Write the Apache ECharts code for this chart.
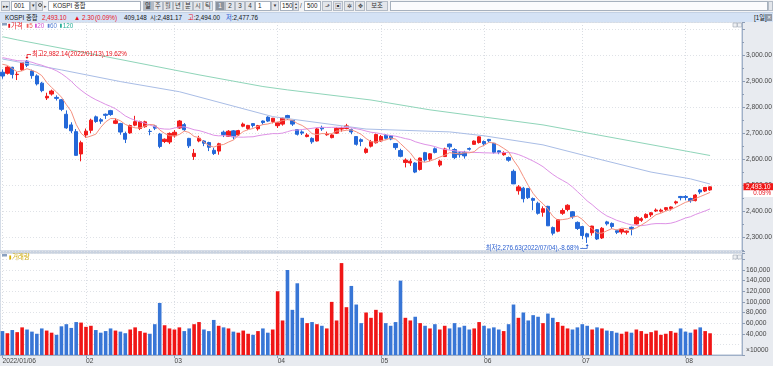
<!DOCTYPE html>
<html lang="ko"><head><meta charset="utf-8"><title>KOSPI 종합</title>
<script src="https://cdn.jsdelivr.net/npm/echarts@6/dist/echarts.min.js"></script>
<style>
*{box-sizing:border-box}
html,body{margin:0;padding:0;width:773px;height:366px;overflow:hidden;background:#e8ebf0;font-family:'Liberation Sans','Noto Sans CJK KR',sans-serif}
.a{position:absolute;white-space:nowrap}
#tb{left:0;top:0;width:773px;height:12px;background:#f2f3f5}
.bx{top:1px;height:10px;background:#fff;border:1px solid #a7b1be;font-size:6.3px;line-height:8px;padding-left:2px;color:#222}
.bt{top:1px;height:10px;background:#e3e6eb;border:1px solid #b3bbc6;font-size:6.3px;line-height:8px;text-align:center;color:#333}
.sel{background:#b3bac5;color:#222}
.sel2{background:#8d949e;color:#fff}
#info{left:0;top:12px;width:773px;height:10px;background:#d4e2f5;border-top:1px solid #c3d1e4}
.it{top:0;font-size:6.3px;line-height:9px;color:#111}
.r{color:#e8101a}.b{color:#1a4fd0}
#chart{left:0;top:22px;width:773px;height:344px}
</style></head><body>
<div id="tb" class="a">
  <div class="a bt" style="left:1px;width:9px;font-size:5px">▸▸</div>
  <div class="a bx" style="left:11px;width:19px">001</div>
  <div class="a bt" style="left:30px;width:6px;font-size:4.5px">▼</div>
  <div class="a bt" style="left:36px;width:7px"><span class="a" style="left:1px;top:1px;width:4px;height:4px;border:1px solid #555;border-radius:50%"></span></div>
  <div class="a" style="left:44px;top:1px;font-size:5px;line-height:10px;color:#555">▸</div>
  <div class="a bx" style="left:48px;width:93px;padding-left:4px">KOSPI 종합</div>
  <div class="a bt sel" style="left:143px;width:10px">일</div>
  <div class="a bt" style="left:153px;width:10px">주</div>
  <div class="a bt" style="left:163px;width:10px">월</div>
  <div class="a bt" style="left:173px;width:10px">년</div>
  <div class="a bt" style="left:183px;width:10px">분</div>
  <div class="a bt" style="left:193px;width:10px">시</div>
  <div class="a bt" style="left:203px;width:10px">틱</div>
  <div class="a bt sel2" style="left:215px;width:10px">1</div>
  <div class="a bt" style="left:225px;width:10px">2</div>
  <div class="a bt" style="left:235px;width:10px">3</div>
  <div class="a bt" style="left:245px;width:10px">4</div>
  <div class="a bx" style="left:255px;width:16px">1</div>
  <div class="a bt" style="left:271px;width:8px;font-size:4.5px">▼</div>
  <div class="a bx" style="left:280px;width:13px;padding-left:1px">150</div>
  <div class="a bt" style="left:293px;width:6px;font-size:4px;line-height:4px">▴<br>▾</div>
  <div class="a" style="left:300px;top:1px;font-size:6.3px;line-height:10px;color:#333">/</div>
  <div class="a bx" style="left:304px;width:17px">500</div>
  <div class="a bt" style="left:322px;width:10px;font-size:6px">⬏</div>
  <div class="a bt" style="left:333px;width:10px;font-size:6px">▣</div>
  <div class="a bt" style="left:344px;width:10px;font-size:6px">✲</div>
  <div class="a bt" style="left:355px;width:10px;font-size:6px">✥</div>
  <div class="a bt" style="left:366px;width:22px">보조</div>
  <div class="a bx" style="left:390px;width:378px;background:#fbfbfd"></div>
  <div class="a bt" style="left:768px;width:5px"></div>
</div>
<div id="info" class="a">
  <span class="a it" style="left:5px">KOSPI 종합</span>
  <span class="a it r" style="left:42px">2,493.10</span>
  <span class="a it r" style="left:74px">▲ 2.30</span>
  <span class="a it r" style="left:95px">(0.09%)</span>
  <span class="a it" style="left:124px">409,148</span>
  <span class="a it" style="left:150px">시:2,481.17</span>
  <span class="a it" style="left:188px"><span class="r">고</span>:2,494.00</span>
  <span class="a it" style="left:226px"><span class="b">저</span>:2,477.76</span>
  <span class="a it" style="left:754px">[1일]</span>
  <span class="a" style="left:765px;top:1px;width:7px;height:7px;background:#8e98a6;color:#fff;font-size:5px;line-height:7px;text-align:center">✕</span>
</div>
<div id="chart" class="a"></div>
<script>
// ---------- data ----------
const dates = ["2022/01/06","2022/01/07","2022/01/10","2022/01/11","2022/01/12","2022/01/13","2022/01/14","2022/01/17","2022/01/18","2022/01/19","2022/01/20","2022/01/21","2022/01/24","2022/01/25","2022/01/26","2022/01/27","2022/01/28",
"2022/02/03","2022/02/04","2022/02/07","2022/02/08","2022/02/09","2022/02/10","2022/02/11","2022/02/14","2022/02/15","2022/02/16","2022/02/17","2022/02/18","2022/02/21","2022/02/22","2022/02/23","2022/02/24","2022/02/25","2022/02/28",
"2022/03/02","2022/03/03","2022/03/04","2022/03/07","2022/03/08","2022/03/10","2022/03/11","2022/03/14","2022/03/15","2022/03/16","2022/03/17","2022/03/18","2022/03/21","2022/03/22","2022/03/23","2022/03/24","2022/03/25","2022/03/28","2022/03/29","2022/03/30","2022/03/31",
"2022/04/01","2022/04/04","2022/04/05","2022/04/06","2022/04/07","2022/04/08","2022/04/11","2022/04/12","2022/04/13","2022/04/14","2022/04/15","2022/04/18","2022/04/19","2022/04/20","2022/04/21","2022/04/22","2022/04/25","2022/04/26","2022/04/27","2022/04/28","2022/04/29",
"2022/05/02","2022/05/03","2022/05/04","2022/05/06","2022/05/09","2022/05/10","2022/05/11","2022/05/12","2022/05/13","2022/05/16","2022/05/17","2022/05/18","2022/05/19","2022/05/20","2022/05/23","2022/05/24","2022/05/25","2022/05/26","2022/05/27","2022/05/30","2022/05/31",
"2022/06/02","2022/06/03","2022/06/07","2022/06/08","2022/06/09","2022/06/10","2022/06/13","2022/06/14","2022/06/15","2022/06/16","2022/06/17","2022/06/20","2022/06/21","2022/06/22","2022/06/23","2022/06/24","2022/06/27","2022/06/28","2022/06/29","2022/06/30",
"2022/07/01","2022/07/04","2022/07/05","2022/07/06","2022/07/07","2022/07/08","2022/07/11","2022/07/12","2022/07/13","2022/07/14","2022/07/15","2022/07/18","2022/07/19","2022/07/20","2022/07/21","2022/07/22","2022/07/25","2022/07/26","2022/07/27","2022/07/28","2022/07/29",
"2022/08/01","2022/08/02","2022/08/03","2022/08/04","2022/08/05","2022/08/08"];

const open = [2935,2931,2954,2926,2945,2978,2940,2921,2893,2836,2851,2838,2829,2773,2732,2706,2620,
2693,2711,2763,2752,2773,2787,2738,2737,2699,2701,2731,2718,2725,2707,2728,2697,2668,2666,
2690,2720,2733,2680,2610,2670,2670,2664,2634,2631,2704,2688,2709,2693,2727,2718,2737,2717,2747,2762,2745,
2729,2735,2768,2749,2714,2705,2687,2680,2670,2722,2694,2683,2700,2716,2718,2714,2687,2675,2626,2650,2663,
2670,2692,2690,2660,2633,2587,2585,2585,2560,2625,2600,2640,2577,2610,2658,2637,2624,2626,2641,2657,2664,
2668,2676,2661,2632,2617,2606,2553,2478,2488,2487,2448,2430,2395,2418,2336,2322,2391,2406,2397,2356,
2340,2312,2316,2328,2296,2358,2352,2324,2319,2318,2337,2350,2364,2375,2385,2400,2399,2406,2409,2431,2456,
2456,2448,2440,2481,2477,2481.17];

const high = [2946,2958,2956,2936,2975,2982.14,2945,2927,2898,2856,2868,2846,2832,2788,2742,2716,2671,
2718,2756,2768,2758,2776,2790,2757,2740,2706,2733,2767,2748,2748,2716,2730,2701,2680,2703,
2712,2751,2739,2682,2639,2690,2673,2667,2644,2663,2710,2712,2712,2713,2741,2732,2739,2732,2749,2765,2759,
2742,2760,2771,2750,2715,2711,2700,2684,2720,2729,2706,2698,2722,2725,2736,2718,2689,2680,2645,2674,2698,
2693,2697,2692,2662,2640,2603,2602,2588,2606,2628,2623,2645,2598,2644,2660,2642,2630,2632,2645,2672,2688,
2672,2678,2662,2634,2630,2610,2560,2500,2493,2487,2452,2436,2418,2420,2340,2368,2410,2426,2400,2360,
2343,2316,2343,2330,2338,2362,2356,2328,2330,2325,2340,2380,2376,2391,2396,2410,2409,2415,2418,2440,2458,
2461,2451,2465,2485,2492,2494.00];

const low = [2910,2926,2911,2905,2940,2955,2910,2884,2858,2828,2845,2826,2785,2717,2700,2614,2591.53,
2682,2700,2740,2736,2755,2767,2735,2694,2662,2698,2727,2712,2721,2692,2712,2642,2662,2658,
2683,2717,2708,2643,2597,2665,2650,2631,2616,2617,2685,2686,2676,2689,2723,2712,2722,2710,2733,2743,2738,
2720,2729,2751,2728,2691,2693,2684,2659,2668,2709,2690,2680,2697,2706,2715,2696,2652,2650,2621,2645,2660,
2667,2676,2673,2636,2607,2568,2574,2546,2556,2590,2592,2622,2570,2608,2637,2600,2606,2602,2633,2655,2660,
2650,2664,2621,2619,2613,2590,2504,2463,2433,2446,2403,2386,2378,2342,2306,2318,2385,2399,2370,2327,
2291,2276.63,2305,2288,2292,2344,2331,2311,2310,2309,2306,2347,2358,2371,2377,2396,2394,2400,2402,2425,2441,
2441,2432,2437,2465,2473,2477.76];

const close = [2920.53,2954.89,2926.72,2927.38,2972.48,2962.09,2921.92,2890.10,2864.24,2842.28,2862.68,2834.29,2792.00,2720.39,2709.24,2614.49,2663.34,
2707.82,2750.26,2745.06,2746.47,2768.85,2771.93,2747.71,2704.48,2676.54,2729.68,2744.52,2744.09,2743.80,2706.79,2719.53,2648.80,2676.76,2699.18,
2703.52,2747.08,2713.43,2651.31,2622.40,2680.32,2661.28,2645.65,2621.53,2659.23,2694.51,2707.64,2686.05,2710.00,2735.05,2729.98,2729.66,2729.56,2741.07,2746.74,2757.65,
2739.85,2757.90,2759.20,2735.03,2695.86,2700.39,2693.10,2666.76,2716.49,2716.71,2696.06,2693.21,2718.69,2718.89,2728.21,2704.71,2657.13,2668.31,2639.06,2667.49,2695.05,
2687.45,2680.46,2677.57,2644.51,2610.81,2596.56,2592.27,2550.08,2604.24,2596.58,2620.44,2625.98,2592.34,2639.29,2647.38,2605.87,2617.22,2612.45,2638.05,2669.66,2685.90,
2658.99,2670.65,2626.15,2626.34,2625.44,2595.87,2504.51,2492.97,2447.38,2451.41,2440.93,2391.03,2408.93,2342.81,2314.32,2366.60,2401.92,2422.09,2377.99,2332.64,
2305.42,2300.34,2341.78,2292.01,2333.39,2350.61,2340.27,2317.76,2328.61,2322.32,2330.98,2375.25,2370.18,2386.85,2393.14,2403.69,2403.22,2412.90,2415.53,2435.27,2451.50,
2452.25,2439.62,2461.45,2473.11,2490.80,2493.10];

// closes of the 19 sessions before the first shown day (for the 5 / 20 averages)
const prevCloses = [3029.57,3010.23,3001.66,2987.95,2989.39,3006.41,3017.73,2963.00,2984.48,2984.65,2998.32,3012.43,2999.55,3020.24,2993.29,2977.65,2988.77,2989.24,2953.97];

// volume, x10000 shares
const volume = [45000,41000,47000,43000,52000,48000,44000,40000,50000,46000,42000,38000,54000,58000,51000,62000,61000,
53000,55000,47000,42000,45000,50000,46000,44000,41000,48000,52000,45000,42000,40000,58000,98000,56000,50000,
48000,52000,45000,50000,58000,62000,48000,45000,66000,55000,52000,50000,44000,42000,46000,40000,38000,45000,50000,42000,48000,
120000,65000,160000,85000,135000,70000,60000,62000,58000,55000,50000,100000,65000,173000,90000,130000,95000,60000,80000,70000,85000,
80000,60000,55000,62000,140000,70000,65000,72000,60000,55000,50000,58000,48000,55000,50000,60000,52000,55000,48000,50000,62000,
55000,50000,52000,48000,45000,58000,95000,70000,80000,65000,75000,72000,60000,78000,70000,62000,55000,50000,48000,52000,
58000,55000,48000,52000,50000,46000,45000,42000,40000,44000,42000,48000,45000,40000,43000,46000,38000,40000,45000,42000,50000,
44000,42000,48000,52000,45000,40915];

// 60 / 120 day averages at some sessions
const ma60Idx = [0,12,24,36,55,74,91,98,110,122,132,140,144];
const ma60Val = [2986,2944,2899,2860,2764,2716,2705,2690,2655,2597,2550,2524,2504];
const ma120Idx = [0,3,20,40,53,58,75,87,110,140,144];
const ma120Val = [3072,3060,2999,2925,2880,2867,2828,2790,2732,2628,2614];

// ---------- build ----------
const N = dates.length, PAD = 6;
const cats = dates.concat(Array.from({length:PAD},(_,k)=>'pad'+k));
const UP = '#f21b1b', DN = '#2468d8', VUP = '#f01616', VDN = '#3876d6';
const FONT = "'Liberation Sans','Noto Sans CJK KR',sans-serif";
const axisFont = {fontFamily:FONT, fontSize:6.7, color:'#474747'};
const PRICE_MIN = 2245.7, PRICE_MAX = 3128.8, PRICE_LABEL_TOP = 3050;

function movingAvg(n){
  const all = prevCloses.concat(close), off = prevCloses.length;
  return close.map((_,i)=>{ let s=0; for(let k=0;k<n;k++) s+=all[off+i-k]; return +(s/n).toFixed(2); });
}
function sparse(idx, val){ const a = new Array(N).fill(null); idx.forEach((ix,k)=>{a[ix]=val[k];}); return a; }
const isMonthStart = (i) => i < N && (i === 0 || dates[i].slice(5,7) !== dates[i-1].slice(5,7));
const fmt2 = (v) => v.toLocaleString('en-US',{minimumFractionDigits:2, maximumFractionDigits:2});

const ohlc = open.map((o,i)=>[o, close[i], low[i], high[i]]);
const vol = volume.map((v,i)=>({value:v, itemStyle:{color: close[i]>=open[i] ? VUP : VDN}}));

const chart = echarts.init(document.getElementById('chart'), null, {renderer:'canvas'});
const dotted = {color:'#d9dde3', type:[1,2], width:1};
const option = {
  animation:false,
  backgroundColor:'#e8ebf0',
  grid:[
    {left:0, right:31, top:0, height:229, show:true, backgroundColor:'#fff', borderColor:'#aab9cf', borderWidth:1, containLabel:false, outerBoundsMode:'none'},
    {left:0, right:31, top:231, height:102, show:true, backgroundColor:'#fff', borderColor:'#aab9cf', borderWidth:1, containLabel:false, outerBoundsMode:'none'}
  ],
  xAxis:[
    {type:'category', gridIndex:0, data:cats, boundaryGap:true,
     axisLine:{show:false}, axisTick:{show:false}, axisLabel:{show:false},
     splitLine:{show:true, interval:(i)=>isMonthStart(i), alignWithLabel:true, lineStyle:dotted}},
    {type:'category', gridIndex:1, data:cats, boundaryGap:true,
     axisLine:{show:true, lineStyle:{color:'#9fb0c8'}},
     axisTick:{show:true, interval:(i)=>isMonthStart(i), alignWithLabel:true, length:3, lineStyle:{color:'#8d9db5'}},
     axisLabel:Object.assign({show:true, interval:(i)=>isMonthStart(i), formatter:(v,i)=> i===0 ? v : v.slice(5,7), align:'left', margin:3}, axisFont),
     splitLine:{show:true, interval:(i)=>isMonthStart(i), alignWithLabel:true, lineStyle:dotted}}
  ],
  yAxis:[
    {type:'value', gridIndex:0, position:'right', min:PRICE_MIN, max:PRICE_MAX, splitNumber:9,
     axisLine:{show:true, lineStyle:{color:'#9fb0c8'}},
     axisTick:{show:true, length:3, lineStyle:{color:'#8d9db5'}},
     minorTick:{show:true, splitNumber:2, length:2, lineStyle:{color:'#8d9db5'}},
     axisLabel:Object.assign({show:true, margin:4, showMinLabel:true, showMaxLabel:true,
       formatter:(v)=> (Math.abs(v/100-Math.round(v/100))<1e-6 && v < PRICE_LABEL_TOP) ? fmt2(v) : ''}, axisFont),
     splitLine:{show:true, lineStyle:{color:'#dfe2e7', type:[1,2]}}},
    {type:'value', gridIndex:1, position:'right', min:0, max:192000, interval:20000,
     axisLine:{show:true, lineStyle:{color:'#9fb0c8'}},
     axisTick:{show:true, length:3, lineStyle:{color:'#8d9db5'}},
     axisLabel:Object.assign({show:true, margin:4, showMinLabel:true, showMaxLabel:true,
       formatter:(v)=> v===0 ? '{u|×10000}' : (v>170000 ? '' : v.toLocaleString('en-US')),
       rich:{u:{fontFamily:FONT, fontSize:6.7, color:'#474747', padding:[0,0,10,0]}}}, axisFont),
     splitLine:{show:true, lineStyle:{color:'#dfe2e7', type:[1,2]}}}
  ],
  series:[
    {type:'candlestick', xAxisIndex:0, yAxisIndex:0, data:ohlc, barWidth:3.8,
     itemStyle:{color:UP, color0:DN, borderColor:UP, borderColor0:DN, borderColorDoji:UP, borderWidth:1}},
    {type:'line', name:'120', xAxisIndex:0, yAxisIndex:0, data:sparse(ma120Idx, ma120Val), connectNulls:true, symbol:'none', smooth:false, lineStyle:{color:'#8fd5b9', width:1}},
    {type:'line', name:'60', xAxisIndex:0, yAxisIndex:0, data:sparse(ma60Idx, ma60Val), connectNulls:true, symbol:'none', smooth:false, lineStyle:{color:'#a9bde6', width:1}},
    {type:'line', name:'20', xAxisIndex:0, yAxisIndex:0, data:movingAvg(20), symbol:'none', lineStyle:{color:'#de92e6', width:1}},
    {type:'line', name:'5', xAxisIndex:0, yAxisIndex:0, data:movingAvg(5), symbol:'none', lineStyle:{color:'#f5917f', width:1}},
    {type:'bar', xAxisIndex:1, yAxisIndex:1, data:vol, barWidth:3.6}
  ]
};
chart.setOption(option);

// ---------- overlays placed through the chart's own scales ----------
const P = (i,v)=>chart.convertToPixel({xAxisIndex:0, yAxisIndex:0},[i,v]);
const hi = Math.max(...high), hiI = high.indexOf(hi);
const lo = Math.min(...low), loI = low.indexOf(lo);
const last = close[N-1], prev = close[N-2];
const ph = P(hiI, hi), pl = P(loI, lo);
const yc = chart.convertToPixel({yAxisIndex:0}, last);
const pctHi = ((hi-last)/last*100).toFixed(2), pctLo = ((lo-last)/last*100).toFixed(2);
const pctDay = ((last-prev)/prev*100).toFixed(2);
const RED = '#e8101a', BLUE = '#2a5fd0';
const txt = (x,y,t,fill,align,extra)=>Object.assign({type:'text', x, y, silent:true, z:100,
  style:{text:t, fill, font:'6.3px '+FONT, textAlign:align||'left', textVerticalAlign:'middle', align:align||'left', verticalAlign:'middle'}}, extra||{});
const legend = [[8.3,11,'가격','#e8101a'],[26.7,29.3,'5','#f0605a'],[35,37.3,'20','#d45ad4'],[47.7,50,'60','#5c84d6'],[60,62.7,'120','#2aae98']];
const gfx = [
  {type:'rect', shape:{x:2,y:1,width:5,height:2.5}, style:{fill:'#8aa0c0'}, z:100},
  {type:'rect', shape:{x:2,y:232,width:5,height:2.5}, style:{fill:'#8aa0c0'}, z:100},
  {type:'rect', shape:{x:9.3,y:233.5,width:1.8,height:4}, style:{fill:'#d4ad06'}, z:100},
  txt(12.3,235.7,'거래량','#cfa800'),
  // pane buttons
  {type:'rect', shape:{x:733,y:1,width:4,height:4}, style:{fill:'#eef0f3',stroke:'#9aa4b2',lineWidth:0.6}, z:100},
  {type:'rect', shape:{x:737.5,y:1,width:4,height:4}, style:{fill:'#eef0f3',stroke:'#9aa4b2',lineWidth:0.6}, z:100},
  {type:'rect', shape:{x:733,y:233,width:4,height:4}, style:{fill:'#eef0f3',stroke:'#9aa4b2',lineWidth:0.6}, z:100},
  {type:'rect', shape:{x:737.5,y:233,width:4,height:4}, style:{fill:'#eef0f3',stroke:'#9aa4b2',lineWidth:0.6}, z:100},
  // high annotation
  {type:'polyline', shape:{points:[[ph[0],ph[1]-2],[ph[0],ph[1]-5.5],[ph[0]+4,ph[1]-5.5]]}, style:{stroke:RED,lineWidth:0.8,fill:null}, z:100},
  {type:'polygon', shape:{points:[[ph[0]-1.5,ph[1]-3],[ph[0]+1.5,ph[1]-3],[ph[0],ph[1]-1]]}, style:{fill:RED}, z:100},
  txt(ph[0]+5, ph[1]-5.5, '최고'+fmt2(hi)+'('+dates[hiI]+'),'+pctHi+'%', RED),
  // low annotation
  {type:'polyline', shape:{points:[[pl[0]-7,pl[1]+5.5],[pl[0],pl[1]+5.5],[pl[0],pl[1]+2]]}, style:{stroke:BLUE,lineWidth:0.8,fill:null}, z:100},
  {type:'polygon', shape:{points:[[pl[0]-1.5,pl[1]+3],[pl[0]+1.5,pl[1]+3],[pl[0],pl[1]+1]]}, style:{fill:BLUE}, z:100},
  txt(pl[0]-8, pl[1]+5.5, '최저'+fmt2(lo)+'('+dates[loI]+'),'+pctLo+'%', BLUE, 'right'),
  // current price on axis
  {type:'rect', shape:{x:743.5,y:yc-3.6,width:29.5,height:7.2}, style:{fill:'#f01818'}, z:100},
  txt(746, yc, fmt2(last), '#ffffff'),
  {type:'rect', shape:{x:743.5,y:yc+3.6,width:29.5,height:6.6}, style:{fill:'#ffffff'}, z:100},
  txt(771, yc+6.9, pctDay+'%', RED, 'right')
];
legend.forEach(([sx,tx,t,c])=>{
  gfx.push({type:'rect', shape:{x:sx,y:1.8,width:1.8,height:4}, style:{fill:c}, z:100});
  gfx.push(txt(tx,3.9,t,c));
});
chart.setOption({graphic:{elements:gfx}});
</script>
</body></html>
